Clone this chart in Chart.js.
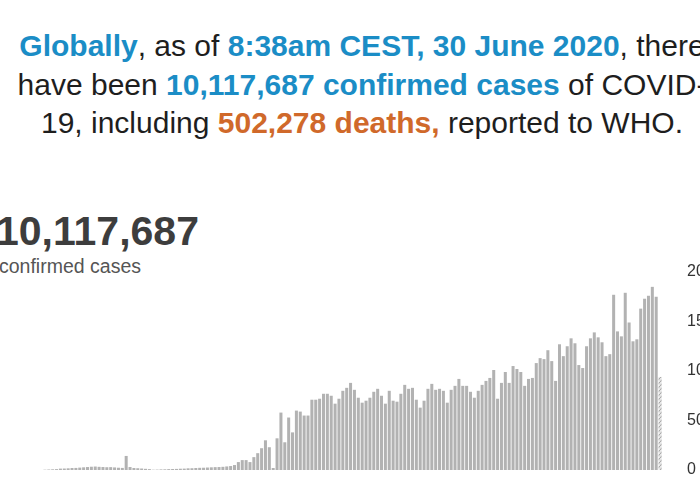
<!DOCTYPE html>
<html>
<head>
<meta charset="utf-8">
<script src="https://cdn.jsdelivr.net/npm/chart.js@4.4.0/dist/chart.umd.min.js"></script>
<style>
  html, body { margin: 0; padding: 0; width: 700px; height: 500px; overflow: hidden; background: #fff; }
  body { position: relative; font-family: "Liberation Sans", Arial, sans-serif; }
  #headline {
    position: absolute; left: -100px; width: 924px; top: 27px;
    text-align: center; white-space: nowrap;
    font-size: 30px; line-height: 38.5px; color: #1e1e1e;
  }
  #headline .blue { color: #1b8dc6; font-weight: bold; }
  #headline .orange { color: #d0692a; font-weight: bold; }
  #total {
    position: absolute; left: -4px; top: 211px;
    font-size: 41px; line-height: 41px; font-weight: bold; color: #3d3d3d;
  }
  #totalLabel {
    position: absolute; left: -1px; top: 257px;
    font-size: 19.5px; line-height: 19px; color: #555;
  }
  #chartBox { position: absolute; left: 0; top: 238px; width: 722px; height: 266px; }
</style>
</head>
<body>
<div id="headline">
  <span class="blue">Globally</span>, as of <span class="blue">8:38am CEST, 30 June 2020</span>, there<br>
  have been <span class="blue">10,117,687 confirmed cases</span> of COVID-<br>
  19, including <span class="orange">502,278 deaths,</span> reported to WHO.
</div>
<div id="total">10,117,687</div>
<div id="totalLabel">confirmed cases</div>
<div id="chartBox"><canvas id="casesChart"></canvas></div>

<script>
// daily new confirmed cases, 23 Jan .. 30 Jun 2020 (last day still partial)
const startDay = '2020-01-23';
const dailyCases = [
  300, 500, 700, 900, 1400, 1500, 1700, 2000, 2100, 2400, 2700, 3000, 3300, 3500, 3200, 3000, 2800, 2900, 2600, 2300, 2100,
  14200,
  3000, 2000, 1800, 1500, 1200, 900, 300,
  400, 600, 700, 900, 1000, 1100, 1300, 1400, 1700, 1800, 2000, 2200, 2300, 2500, 2700, 2900, 3000, 3200, 3600,
  4000, 5000, 8000, 10000, 10000, 8000, 13000, 17000, 22000, 30000, 23000, 2000, 32000, 58000, 28000,
  53000, 38000, 60000, 59000, 55000, 55000, 71000, 71000, 72000, 77000, 77000, 75000, 67000, 72000,
  80000, 83000, 88000, 81000, 73000, 68000, 70000, 73000, 79000, 82000, 75000, 67000, 80000,
  70000, 69000, 77000, 86000, 82000, 83000, 71000, 63000, 70000, 82000, 87000, 81000,
  82000, 80000, 68000, 81000, 85000, 92000, 85000, 85000, 79000, 73000, 80000, 86000, 90000,
  93000, 101000, 72000, 88000, 99000, 88000, 105000, 102000, 99000, 85000, 92000, 93000, 108000,
  113000, 112000, 121000, 110000, 90000, 127000, 115000, 125000, 133000, 128000, 106000, 103000,
  125000, 133000, 139000, 134000, 129000, 115000,
  117000, 177000, 140000, 135000, 179000, 149000, 130000, 132000, 163000, 173000, 176000, 185000, 175000, 94000
];
const yTicks = [0, 50000, 100000, 150000, 200000];
const yTickLabels = ['0', '50K', '100K', '150K', '200K'];

// one label per day
const days = [];
const d0 = new Date(startDay + 'T00:00:00Z');
for (let i = 0; i < dailyCases.length; i++) {
    const d = new Date(d0.getTime() + i * 86400000);
    days.push(d.toISOString().split('T')[0]);
}

// hatch pattern for the incomplete last day
const pc = document.createElement('canvas');
pc.width = 4; pc.height = 4;
const p = pc.getContext('2d');
p.fillStyle = '#e6e6e6';
p.fillRect(0, 0, 4, 4);
p.strokeStyle = '#a8a8a8';
p.lineWidth = 1.2;
p.beginPath(); p.moveTo(0, 4); p.lineTo(4, 0); p.stroke();
const hatch = document.createElement('canvas').getContext('2d').createPattern(pc, 'repeat');

const barColors = dailyCases.map((v, i) => i === dailyCases.length - 1 ? hatch : '#b2b2b2');

new Chart(document.getElementById('casesChart'), {
    type: 'bar',
    data: {
        labels: days,
        datasets: [{ data: dailyCases, backgroundColor: barColors, borderWidth: 0, categoryPercentage: 1, barPercentage: 0.78 }]
    },
    options: {
        responsive: true,
        maintainAspectRatio: false,
        animation: false,
        // tick padding also pads the scale vertically, so keep a fixed 34px top/bottom
        layout: { padding: { left: 43, right: 0, top: 34, bottom: 34 } },
        plugins: { legend: { display: false }, tooltip: { enabled: false } },
        scales: {
            x: { display: false },
            y: {
                position: 'right',
                min: 0,
                max: 200000,
                border: { display: false },
                grid: { display: false },
                afterFit: s => { s.width = 60; },
                afterBuildTicks: s => { s.ticks = yTicks.map(v => ({ value: v })); },
                ticks: {
                    padding: 17,
                    color: '#333',
                    font: { family: '"Liberation Sans", Arial, sans-serif', size: 16 },
                    callback: (v) => yTickLabels[yTicks.indexOf(v)]
                }
            }
        }
    }
});
</script>
</body>
</html>
